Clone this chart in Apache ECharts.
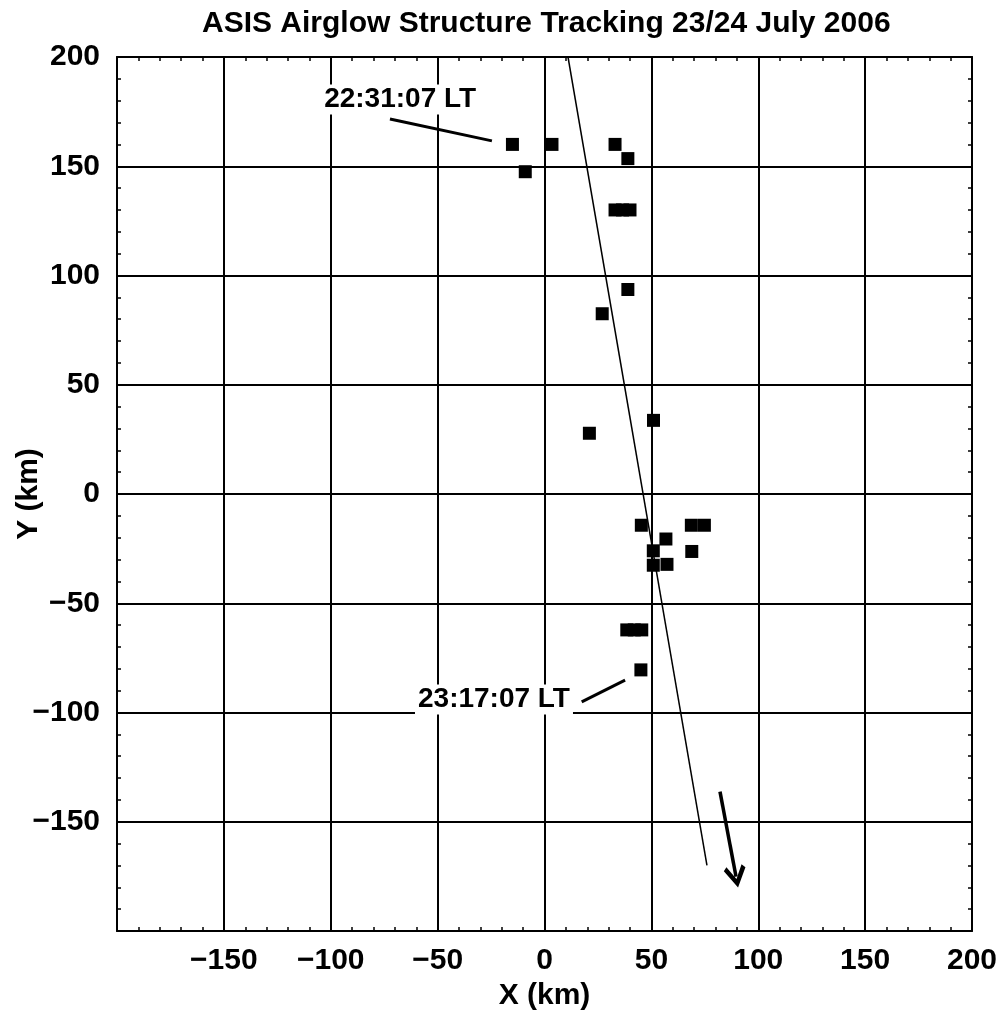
<!DOCTYPE html>
<html><head><meta charset="utf-8">
<script src="https://cdn.jsdelivr.net/npm/echarts@6/dist/echarts.min.js"></script>
<style>html,body{margin:0;padding:0;background:#fff}#c{width:1002px;height:1021px}</style>
</head><body><div id="c"></div>
<script>
// ---- data ----
const titleText = 'ASIS Airglow Structure Tracking 23/24 July 2006';
const xName = 'X (km)';
const yName = 'Y (km)';
const axisMin = -200, axisMax = 200, axisStep = 50;
const hiddenTick = -200;

// tracked structure positions (km)
const structX = [-15, 3.5, 33, 39, -9, 33, 36.5, 40, 39, 27, 51, 21, 45.3, 68.7, 74.8, 56.8, 68.9, 50.9, 50.9, 57.3, 38.5, 42, 45.5, 45.1];
const structY = [160, 160, 160, 153.5, 147.5, 130, 130, 130, 93.6, 82.5, 33.7, 27.8, -14.3, -14.3, -14.3, -20.6, -26.3, -26, -32.6, -32.2, -62.2, -62.2, -62.2, -80.5];

// fitted track
const trendX = [11, 76];
const trendY = [200, -170];

// motion arrow
const arrowX = [82.1, 89.6];
const arrowY = [-136.2, -175.1];

// time annotations
const noteText = ['22:31:07 LT', '23:17:07 LT'];
const noteX = [-67.3, -23.4];
const noteY = [180.3, -94.3];
const leaderX = [[-72.3, -24.6], [17.4, 37.7]];
const leaderY = [[171.6, 161.6], [-95.1, -85.2]];

// ---- chart ----
const FONT = '"Liberation Sans", Arial, Helvetica, sans-serif';
const chart = echarts.init(document.getElementById('c'), null, {renderer: 'canvas'});

function fmt(v) {
  if (v === hiddenTick) return '';
  return v < 0 ? '\u2212' + Math.abs(v) : String(v);
}
const labelStyle = {fontSize: 30, fontWeight: 'bold', color: '#000', fontFamily: FONT};

function axisBase(pos, showLabel, extra) {
  return Object.assign({
    type: 'value', min: axisMin, max: axisMax, interval: axisStep, position: pos,
    axisLine: {show: true, onZero: false, lineStyle: {color: '#000', width: 2}},
    axisTick: {show: true, inside: true, length: 4, lineStyle: {color: '#000', width: 1.5}},
    minorTick: {show: true, splitNumber: 5, length: 4, lineStyle: {color: '#000', width: 1.5}},
    splitLine: {show: showLabel, lineStyle: {color: '#000', width: 2}},
    axisLabel: Object.assign({show: showLabel, formatter: fmt}, labelStyle)
  }, extra || {});
}

const option = {
  animation: false,
  backgroundColor: '#fff',
  title: {
    text: titleText, left: 197, top: 4,
    textStyle: {fontSize: 30, fontWeight: 'bold', color: '#000', fontFamily: FONT}
  },
  grid: {left: 117, right: 30, top: 57, bottom: 90, containLabel: false, outerBoundsMode: 'none'},
  xAxis: [
    axisBase('bottom', true, {
      name: xName, nameLocation: 'middle', nameGap: 50, nameMoveOverlap: false,
      nameTextStyle: labelStyle,
      axisLabel: Object.assign({show: true, formatter: fmt, margin: 15}, labelStyle)
    }),
    axisBase('top', false)
  ],
  yAxis: [
    axisBase('left', true, {
      name: yName, nameLocation: 'middle', nameGap: 73, nameMoveOverlap: false,
      nameTextStyle: labelStyle,
      axisLabel: Object.assign({show: true, formatter: fmt, margin: 17}, labelStyle)
    }),
    axisBase('right', false)
  ],
  series: [
    {
      type: 'line', data: trendX.map((x, i) => [x, trendY[i]]),
      symbol: 'none', lineStyle: {color: '#000', width: 1.5}, z: 3
    },
    {
      type: 'scatter', data: structX.map((x, i) => [x, structY[i]]),
      symbol: 'rect', symbolSize: 13, itemStyle: {color: '#000', opacity: 1}, z: 4
    },
    {
      type: 'lines', coordinateSystem: 'cartesian2d', z: 4,
      data: [{coords: [[arrowX[0], arrowY[0]], [arrowX[1], arrowY[1]]]}],
      symbol: ['none', 'path://M0,0 L10,13 L7,15.5 L0,6 L-7,15.5 L-10,13 Z'],
      symbolSize: [24, 22],
      lineStyle: {color: '#000', width: 3.5, opacity: 1}
    },
    {
      type: 'lines', coordinateSystem: 'cartesian2d', z: 6,
      data: leaderX.map((xs, i) => ({coords: [[xs[0], leaderY[i][0]], [xs[1], leaderY[i][1]]]})),
      symbol: ['none', 'none'],
      lineStyle: {color: '#000', width: 3, opacity: 1}
    },
    {
      type: 'scatter', z: 5,
      data: noteX.map((x, i) => ({value: [x, noteY[i]], name: noteText[i]})),
      symbolSize: 1, itemStyle: {color: 'rgba(255,255,255,0)'},
      label: {
        show: true, position: [0, 0], align: 'center', verticalAlign: 'middle',
        formatter: p => p.name,
        fontSize: 28, fontWeight: 'bold', color: '#000', fontFamily: FONT,
        backgroundColor: '#fff', padding: [1, 3], opacity: 1
      },
      emphasis: {disabled: true}
    }
  ]
};
chart.setOption(option);
</script>
</body></html>
